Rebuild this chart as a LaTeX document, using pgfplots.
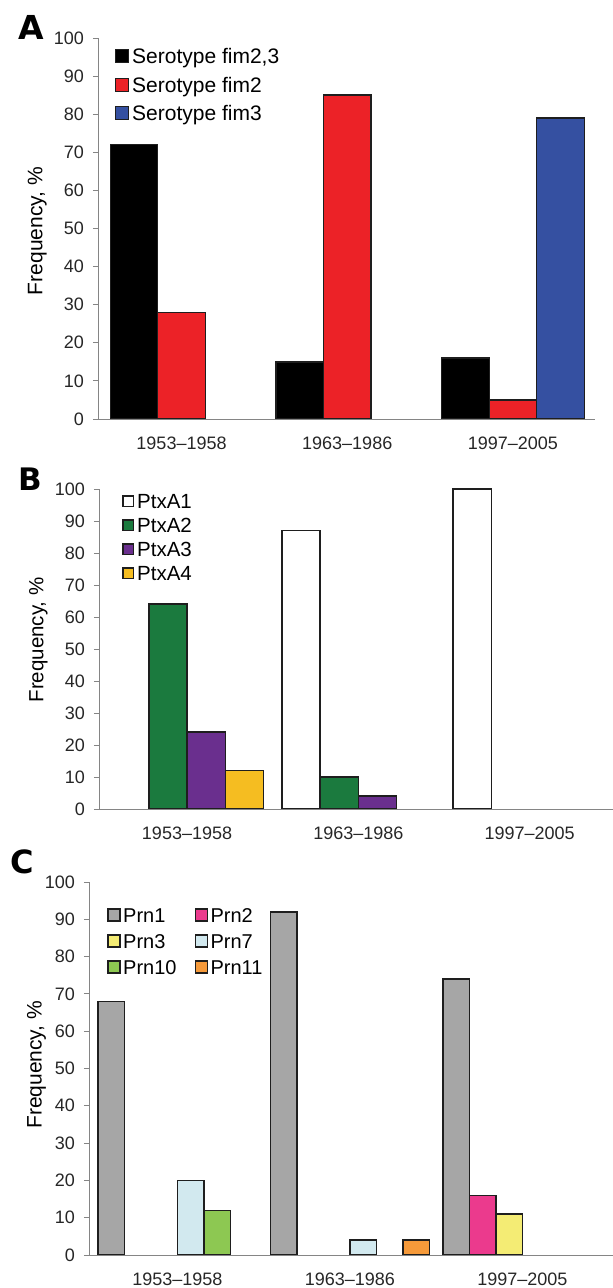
\documentclass[border=0pt]{standalone}
\usepackage{fontspec}
\setmainfont{Liberation Sans}
\newfontfamily\panelfont{DejaVu Sans}
\usepackage{pgfplots}
\pgfplotsset{compat=1.18}

\definecolor{axisgray}{HTML}{858585}
\definecolor{barline}{HTML}{1E1E1E}
\definecolor{fimred}{HTML}{EC2227}
\definecolor{fimblue}{HTML}{3550A1}
\definecolor{ptxgreen}{HTML}{1B7A3E}
\definecolor{ptxpurple}{HTML}{6A2F8E}
\definecolor{ptxyellow}{HTML}{F5BD21}
\definecolor{prngray}{HTML}{A6A6A6}
\definecolor{prnpink}{HTML}{EB3A8D}
\definecolor{prnyellow}{HTML}{F4EC74}
\definecolor{prnblue}{HTML}{D2E9EF}
\definecolor{prngreen}{HTML}{8DC852}
\definecolor{prnorange}{HTML}{F69A3A}

\pgfplotsset{
  panel/.style={
    scale only axis,
    anchor=south west,
    ybar=0pt,
    ymin=0, ymax=100, ytick={0,10,...,100},
    xtick={0,1,2},
    xticklabels={1953–1958,1963–1986,1997–2005},
    axis x line*=bottom, axis y line*=left,
    axis line style={draw=axisgray, line width=0.9pt},
    ytick style={draw=axisgray, line width=0.9pt},
    xtick style={draw=none},
    major tick length=5pt, tick align=outside,
    /pgf/number format/assume math mode=true,
    tick label style={font=\fontsize{18}{20}\selectfont, text=black!85},
    yticklabel style={anchor=east, inner sep=0pt, xshift=-9pt},
    xticklabel style={anchor=center, inner sep=0pt, yshift=-19pt},
    ylabel={Frequency, \%},
    every axis plot/.append style={draw=barline, line width=1.4pt},
    legend cell align=left,
  }
}

\begin{document}
\begin{tikzpicture}
\useasboundingbox (0pt,0pt) rectangle (613pt,1288pt);

% ---------------- Panel A ----------------
\begin{axis}[panel,
  at={(98pt,869pt)}, width=497pt, height=381pt,
  xmin=-0.504, xmax=2.495,
  bar width=47.5pt,
  ylabel style={at={(axis description cs:-0.122,0.493)}, anchor=center,
                font=\fontsize{21}{24}\selectfont},
  legend image code/.code={\draw[#1] (0pt,-4.25pt) rectangle (13pt,8.75pt);},
  legend style={draw=none, fill=none, inner sep=0pt, anchor=north west,
    at={(axis description cs:0.0328,0.9724)},
    font=\fontsize{21}{24}\selectfont,
    nodes={inner sep=0pt, text height=15pt, text depth=4.5pt},
    column sep=3.3pt, row sep=9pt},
]
\addplot[fill=black] coordinates {(0,72) (1,15) (2,16)};
\addplot[fill=fimred] coordinates {(0,28) (1,85) (2,5)};
\addplot[fill=fimblue] coordinates {(2,79)};
\legend{{Serotype fim2,3},{Serotype fim2},{Serotype fim3}}
\end{axis}

% ---------------- Panel B ----------------
\begin{axis}[panel,
  at={(99pt,479pt)}, width=514pt, height=320pt,
  xmin=-0.514, xmax=2.487,
  bar width=38.2pt,
  ylabel style={at={(axis description cs:-0.118,0.528)}, anchor=center,
                font=\fontsize{20.5}{24}\selectfont},
  legend image code/.code={\draw[#1] (0pt,-3pt) rectangle (10.5pt,7.5pt);},
  legend style={draw=none, fill=none, inner sep=0pt, anchor=north west,
    at={(axis description cs:0.0453,0.985)},
    font=\fontsize{20.5}{24}\selectfont,
    nodes={inner sep=0pt, text height=14.6pt, text depth=4.4pt},
    column sep=2.8pt, row sep=5pt},
]
\addplot[fill=white] coordinates {(1,87) (2,100)};
\addplot[fill=ptxgreen] coordinates {(0,64) (1,10)};
\addplot[fill=ptxpurple] coordinates {(0,24) (1,4)};
\addplot[fill=ptxyellow] coordinates {(0,12)};
\legend{PtxA1,PtxA2,PtxA3,PtxA4}
\end{axis}

% ---------------- Panel C ----------------
\begin{axis}[panel,
  at={(89pt,33pt)}, width=524pt, height=373pt,
  xmin=-0.513, xmax=2.525,
  bar width=26.5pt,
  ylabel style={at={(axis description cs:-0.1,0.51)}, anchor=center,
                font=\fontsize{21}{24}\selectfont},
  legend columns=2,
  legend image code/.code={\draw[#1] (0pt,-3.8pt) rectangle (12pt,8.2pt);},
  legend style={draw=none, fill=none, inner sep=0pt, anchor=north west,
    at={(axis description cs:0.0349,0.9306)},
    font=\fontsize{20}{24}\selectfont,
    nodes={inner sep=0pt, text height=14.3pt, text depth=4.3pt},
    column sep=2.3pt, row sep=7.4pt,
    /tikz/every even column/.append style={column sep=18.3pt}},
]
\addplot[fill=prngray] coordinates {(0,68) (1,92) (2,74)};
\addplot[fill=prnpink] coordinates {(2,16)};
\addplot[fill=prnyellow] coordinates {(2,11)};
\addplot[fill=prnblue] coordinates {(0,20) (1,4)};
\addplot[fill=prngreen] coordinates {(0,12)};
\addplot[fill=prnorange] coordinates {(1,4)};
\legend{Prn1,Prn2,Prn3,Prn7,Prn10,Prn11}
\end{axis}

% panel letters
\node[inner sep=0pt, font=\fontsize{33}{36}\panelfont\bfseries] at (31pt,1261pt) {A};
\node[inner sep=0pt, font=\fontsize{31}{36}\panelfont\bfseries] at (30.5pt,809pt) {B};
\node[inner sep=0pt, font=\fontsize{32}{36}\panelfont\bfseries] at (22.5pt,426.5pt) {C};
\end{tikzpicture}
\end{document}
